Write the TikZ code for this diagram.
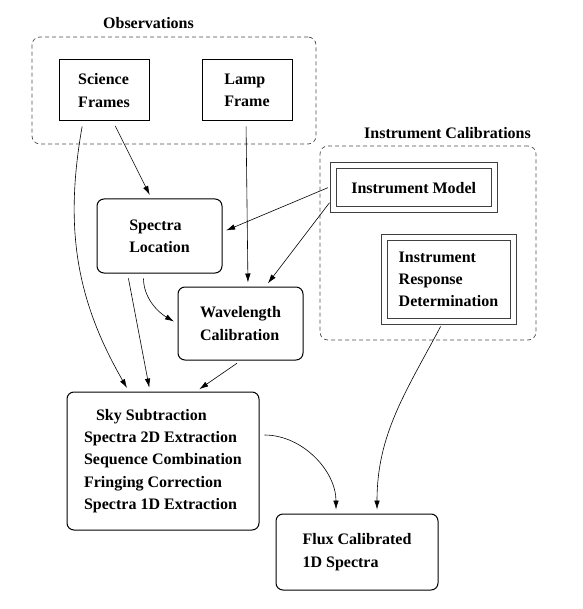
\documentclass[tikz,border=0pt]{standalone}
\usepackage{fontspec}
\setmainfont{Liberation Serif}
\usetikzlibrary{arrows.meta}
\begin{document}
\begin{tikzpicture}[x=1pt, y=1pt, >={Latex[length=9pt,width=5.5pt]},
  every node/.style={font=\fontsize{16}{22.3}\selectfont\bfseries, align=left, inner sep=0pt},
  box/.style={draw, line width=1pt},
  rbox/.style={box, rounded corners=7pt},
  dbox/.style={draw=black!75, double, double distance=5pt, line width=1pt},
  group/.style={draw=black!70, dash pattern=on 4pt off 3pt, rounded corners=8pt, line width=0.7pt},
  pfeil/.style={->, line width=0.6pt, shorten <=5pt, shorten >=4pt}]
\useasboundingbox (0,0) rectangle (582,-609);
\node (obs) at (174,-90.5) [group, minimum width=284pt, minimum height=107pt] {};
\node (obslabel) at (148.5,-23) {Observations};
\node (cal) at (428,-243) [group, minimum width=216pt, minimum height=194pt] {};
\node (callabel) at (447.5,-133) {Instrument Calibrations};
\node (sci) at (104,-90.5) [box, minimum width=90pt, minimum height=61pt] {Science\\Frames};
\node (lamp) at (247,-90.5) [box, minimum width=90pt, minimum height=61pt] {Lamp\\Frame};
\node (model) at (413.75,-187.75) [dbox, minimum width=161.5pt, minimum height=43.5pt] {Instrument Model};
\node (resp) at (448.5,-279.5) [dbox, minimum width=129pt, minimum height=84pt] {Instrument\\Response\\Determination};
\node (loc) at (159.5,-236) [rbox, minimum width=125pt, minimum height=74pt] {Spectra\\Location};
\node (wav) at (240.5,-323.5) [rbox, minimum width=125pt, minimum height=73pt] {Wavelength\\Calibration};
\node (proc) at (163,-461) [rbox, minimum width=192pt, minimum height=138pt] {\hspace*{12pt}Sky Subtraction\\Spectra 2D Extraction\\Sequence Combination\\Fringing Correction\\Spectra 1D Extraction};
\node (flux) at (357,-552) [rbox, minimum width=162pt, minimum height=76pt] {Flux Calibrated\\1D Spectra};
\draw[pfeil] ([xshift=-21pt]sci.south) to[out=-100, in=120] ([xshift=-34pt]proc.north);
\draw[pfeil] ([xshift=9pt]sci.south) -- ([xshift=-8pt]loc.north);
\draw[pfeil] ([xshift=-1pt]lamp.south) -- ([xshift=7.5pt]wav.north);
\draw[pfeil] ([yshift=2pt]model.west) -- ([yshift=4pt]loc.east);
\draw[pfeil] ([yshift=-11pt]model.west) -- ([xshift=25pt]wav.north);
\draw[pfeil] ([xshift=-32pt]loc.south) -- ([xshift=-13pt]proc.north);
\draw[pfeil] ([xshift=-16pt]loc.south) to[out=-90, in=150] (wav.west);
\draw[pfeil] ([xshift=0.5pt]wav.south) -- ([xshift=33pt]proc.north);
\draw[pfeil] ([xshift=-5.5pt]resp.south) to[out=-118, in=90] ([xshift=20pt]flux.north);
\draw[pfeil] ([yshift=26pt]proc.east) to[out=0, in=90] ([xshift=-21pt]flux.north);
\end{tikzpicture}
\end{document}
